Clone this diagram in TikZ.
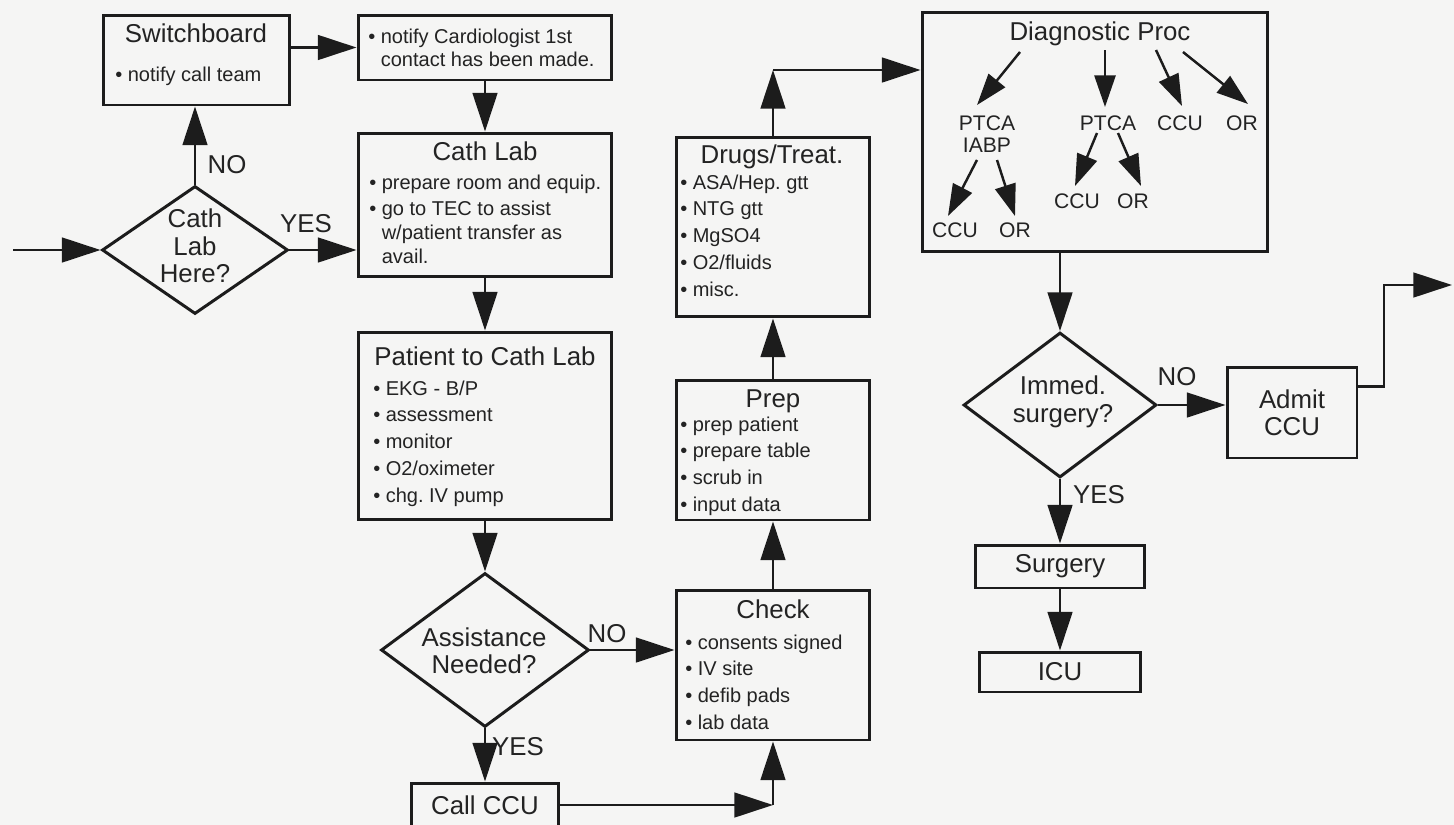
\documentclass[tikz,border=0pt]{standalone}
\usepackage{fontspec}
\setmainfont{Liberation Sans}
\usetikzlibrary{arrows.meta,shapes.geometric}
\definecolor{bg}{RGB}{245,245,244}
\definecolor{ink}{RGB}{28,28,28}
\definecolor{txt}{RGB}{35,35,35}
\newcommand{\ttlf}{\fontsize{14.7}{15.6}\selectfont}
\newcommand{\itmf}{\fontsize{11.4}{13.6}\selectfont}
\newcommand{\smf}{\fontsize{12}{12.5}\selectfont}
\newcommand{\bul}{\makebox[0.62em][l]{\textbullet}}
\newcommand{\ind}{\hspace*{0.62em}}
\begin{document}
\begin{tikzpicture}[x=0.02cm,y=-0.02cm,
  box/.style={draw=ink,line width=1.7pt,rectangle,inner sep=0pt},
  txtbox/.style={box,text=txt,font=\ttlf,align=center},
  dia/.style={draw=ink,line width=1.7pt,diamond,inner sep=0pt},
  title/.style={text=txt,font=\ttlf,inner sep=0pt,anchor=base},
  lab/.style={text=txt,font=\ttlf,inner sep=0pt,anchor=base},
  dtext/.style={text=txt,font=\ttlf,inner sep=0pt,align=center},
  items/.style={text=txt,font=\itmf,inner sep=0pt,anchor=base west},
  sm/.style={text=txt,font=\smf,inner sep=0pt,anchor=base},
  arr/.style={draw=ink,line width=1.6pt,-{Triangle[length=22pt,width=14pt]}},
  inarr/.style={draw=ink,line width=1.4pt,-{Triangle[length=18pt,width=12pt]}}]
\fill[bg] (0,0) rectangle (1454,825);
\useasboundingbox (0,0) rectangle (1454,825);

% boxes
\node[box,minimum width=3.74cm,minimum height=1.8cm] (switch) at (196.5,60) {};
\node[box,minimum width=5.08cm,minimum height=1.3cm] (notify) at (485,47.5) {};
\node[box,minimum width=5.08cm,minimum height=2.88cm] (cath) at (485,205) {};
\node[box,minimum width=5.08cm,minimum height=3.76cm] (patient) at (485,426) {};
\node[dia,minimum width=3.72cm,minimum height=2.56cm] (cathQ) at (195,250) {};
\node[dia,minimum width=4.16cm,minimum height=3.08cm] (assist) at (485,650) {};
\node[txtbox,minimum width=2.96cm,minimum height=0.88cm] (callccu) at (485,805) {Call CCU};
\node[box,minimum width=3.88cm,minimum height=3.0cm] (check) at (773,665) {};
\node[box,minimum width=3.88cm,minimum height=2.8cm] (prep) at (773,450) {};
\node[box,minimum width=3.88cm,minimum height=3.6cm] (drugs) at (773,227) {};
\node[box,minimum width=6.92cm,minimum height=4.8cm] (diag) at (1095,132) {};
\node[dia,minimum width=3.86cm,minimum height=2.9cm] (immed) at (1060,405) {};
\node[txtbox,minimum width=2.6cm,minimum height=1.82cm] (admit) at (1292,412.5) {Admit\\CCU};
\node[txtbox,minimum width=3.38cm,minimum height=0.86cm] (surg) at (1060,566.5) {Surgery};
\node[txtbox,minimum width=3.22cm,minimum height=0.8cm] (icu) at (1060,672) {ICU};

% titles
\node[title] (switchT) at (196,42) {Switchboard};
\node[title] (cathT) at (485,160) {Cath Lab};
\node[title] (patT) at (485,365) {Patient to Cath Lab};
\node[title] (checkT) at (773,618) {Check};
\node[title] (prepT) at (773,407) {Prep};
\node[title] (drugsT) at (772,163) {Drugs/Treat.};
\node[title] (diagT) at (1100,40) {Diagnostic Proc};

% items
\node[items] (switchI) at (115,81) {\begin{tabular}[t]{@{}l@{}}\bul notify call team\end{tabular}};
\node[items] (notifyI) at (368,43) {\begin{tabular}[t]{@{}l@{}}\bul notify Cardiologist 1st\\ \ind contact has been made.\end{tabular}};
\node[items] (cathI) at (369,189) {\begin{tabular}[t]{@{}l@{}}\bul prepare room and equip.\\[1.7pt] \bul go to TEC to assist\\ \ind w/patient transfer as\\ \ind avail.\end{tabular}};
\node[items] (patI) at (373,395) {\begin{tabular}[t]{@{}l@{}}\bul EKG - B/P\\[1.7pt] \bul assessment\\[1.7pt] \bul monitor\\[1.7pt] \bul O2/oximeter\\[1.7pt] \bul chg.\ IV pump\end{tabular}};
\node[items] (checkI) at (685,649) {\begin{tabular}[t]{@{}l@{}}\bul consents signed\\[1.7pt] \bul IV site\\[1.7pt] \bul defib pads\\[1.7pt] \bul lab data\end{tabular}};
\node[items] (prepI) at (680,431) {\begin{tabular}[t]{@{}l@{}}\bul prep patient\\[1.7pt] \bul prepare table\\[1.7pt] \bul scrub in\\[1.7pt] \bul input data\end{tabular}};
\node[items] (drugsI) at (680,189) {\begin{tabular}[t]{@{}l@{}}\bul ASA/Hep.\ gtt\\[1.7pt] \bul NTG gtt\\[1.7pt] \bul MgSO4\\[1.7pt] \bul O2/fluids\\[1.7pt] \bul misc.\end{tabular}};

% diamond texts
\node[dtext] (cathQT) at (195,246) {Cath\\Lab\\Here?};
\node[dtext] (assistT) at (484,651) {Assistance\\Needed?};
\node[dtext] (immedT) at (1063,402) {Immed.\\surgery?};

% branch labels
\node[lab] (noA) at (227,173) {NO};
\node[lab] (yesA) at (306,232) {YES};
\node[lab] (noB) at (607,642) {NO};
\node[lab] (yesB) at (518,755) {YES};
\node[lab] (noC) at (1177,385) {NO};
\node[lab] (yesC) at (1099,503) {YES};

% diagnostic inner labels
\node[sm] (p1) at (987,130) {PTCA};
\node[sm] (p1b) at (987,152) {IABP};
\node[sm] (c1) at (955,237) {CCU};
\node[sm] (o1) at (1015,237) {OR};
\node[sm] (p2) at (1108,130) {PTCA};
\node[sm] (c2) at (1077,208) {CCU};
\node[sm] (o2) at (1133,208) {OR};
\node[sm] (c3) at (1180,130) {CCU};
\node[sm] (o3) at (1242,130) {OR};

% inner arrows
\coordinate (a1s) at (1020,52);  \coordinate (a1e) at (977,105);
\coordinate (a2s) at (1105,50);  \coordinate (a2e) at (1105,107);
\coordinate (a3s) at (1156,50);  \coordinate (a3e) at (1182,106);
\coordinate (a4s) at (1183,52);  \coordinate (a4e) at (1248,104);
\coordinate (b1s) at (977,160);  \coordinate (b1e) at (948,216);
\coordinate (b2s) at (997,160);  \coordinate (b2e) at (1015,216);
\coordinate (c1s) at (1097,133); \coordinate (c1e) at (1075,186);
\coordinate (c2s) at (1118,133); \coordinate (c2e) at (1141,186);
\draw[inarr] (a1s) -- (a1e);
\draw[inarr] (a2s) -- (a2e);
\draw[inarr] (a3s) -- (a3e);
\draw[inarr] (a4s) -- (a4e);
\draw[inarr] (b1s) -- (b1e);
\draw[inarr] (b2s) -- (b2e);
\draw[inarr] (c1s) -- (c1e);
\draw[inarr] (c2s) -- (c2e);

% connectors
\coordinate (inS) at (13,250);
\draw[arr] (inS) -- (cathQ.west);
\draw[arr] (cathQ.north) -- (cathQ.north |- switch.south);
\draw[arr] (cathQ.east) -- (cathQ.east -| cath.west);
\draw[arr] (switch.east |- notify.west) -- (notify.west);
\draw[arr] (notify.south) -- (cath.north);
\draw[arr] (cath.south) -- (patient.north);
\draw[arr] (patient.south) -- (assist.north);
\draw[arr] (assist.east) -- (assist.east -| check.west);
\draw[arr] (assist.south) -- (callccu.north);
\coordinate (ccCorner) at (check.south |- callccu.east);
\draw[arr] (callccu.east) -- (ccCorner);
\draw[arr] (ccCorner) -- (check.south);
\draw[arr] (check.north) -- (prep.south);
\draw[arr] (prep.north) -- (drugs.south);
\coordinate (dgCorner) at (773,70);
\draw[arr] (drugs.north) -- (dgCorner);
\draw[arr] (dgCorner) -- (dgCorner -| diag.west);
\draw[arr] (immed.north |- diag.south) -- (immed.north);
\draw[arr] (immed.east) -- (immed.east -| admit.west);
\draw[arr] (immed.south) -- (immed.south |- surg.north);
\draw[arr] (surg.south) -- (surg.south |- icu.north);
\coordinate (outC) at (1384,285);
\coordinate (outE) at (1452,285);
\draw[arr] (admit.north east) ++(0,21) -| (outC) -- (outE);
\end{tikzpicture}
\end{document}
